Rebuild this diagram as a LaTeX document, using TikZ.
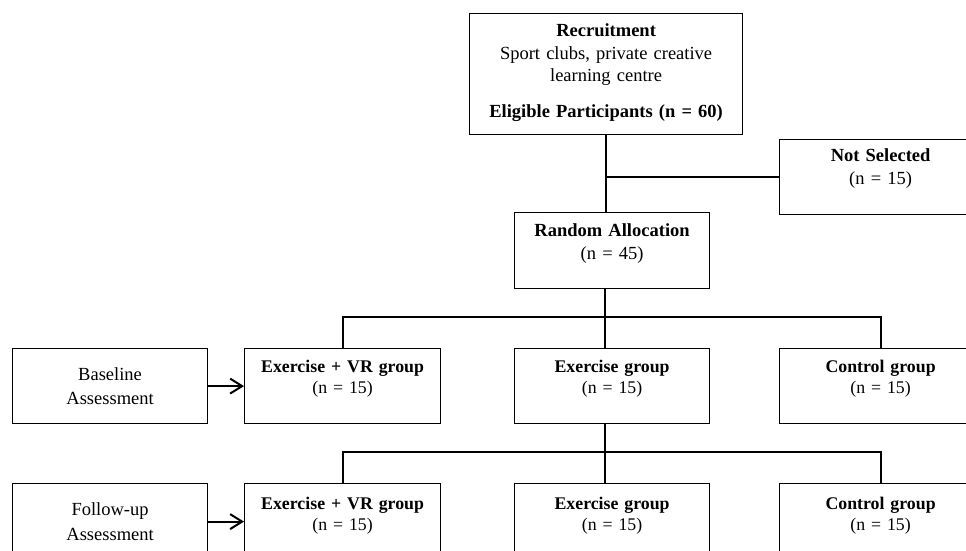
\documentclass[tikz,border=0pt]{standalone}
\usepackage{fontspec}
\setmainfont{Liberation Serif}
\usetikzlibrary{arrows.meta}
\begin{document}
\begin{tikzpicture}[x=0.5pt,y=-0.5pt,
  box/.style={draw, line width=0.6pt, inner xsep=0pt, inner ysep=0pt, align=center,
    anchor=north west, font=\fontsize{9.25}{11.35}\selectfont},
  grp/.style={box, text height=12pt, text depth=25.5pt, font=\fontsize{8.9}{10.6}\selectfont},
  grpb/.style={box, text height=13pt, text depth=25pt, font=\fontsize{8.9}{10.6}\selectfont},
  side/.style={box, text width=97.5pt, minimum height=38pt, font=\fontsize{9.25}{12.2}\selectfont},
  link/.style={line width=1pt},
  arr/.style={line width=1pt, -{Straight Barb[length=6pt,width=7.5pt,line width=1pt]}}]
\useasboundingbox (0,0) rectangle (966,551);
\clip (0,0) rectangle (966,551);
\fill[white] (0,0) rectangle (966,551);

\node[box, text width=136.5pt, text height=11.5pt, text depth=49pt] (rec) at (469,13)
  {\textbf{Recruitment}\\Sport clubs, private creative\\learning centre\\[6.65pt]\textbf{Eligible Participants (n = 60)}};
\node[box, text width=101pt, text height=11pt, text depth=26.5pt] (ns) at (779,139)
  {\textbf{Not Selected}\\(n = 15)};
\node[box, text width=97.5pt, text height=12pt, text depth=26pt] (ra) at (514,212)
  {\textbf{Random Allocation}\\(n = 45)};

\node[side, minimum height=37.5pt] (base) at (12,348) {Baseline\\Assessment};
\node[grp, text width=98pt] (vr) at (244,348) {\textbf{Exercise + VR group}\\(n = 15)};
\node[grp, text width=97.5pt] (ex) at (514,348) {\textbf{Exercise group}\\(n = 15)};
\node[grp, text width=101pt] (ctl) at (779,348) {\textbf{Control group}\\(n = 15)};

\node[side] (fu) at (12,483) {Follow-up\\Assessment};
\node[grpb, text width=98pt] (vr2) at (244,483) {\textbf{Exercise + VR group}\\(n = 15)};
\node[grpb, text width=97.5pt] (ex2) at (514,483) {\textbf{Exercise group}\\(n = 15)};
\node[grpb, text width=101pt] (ctl2) at (779,483) {\textbf{Control group}\\(n = 15)};

\coordinate (s1) at (605,317);
\coordinate (s2) at (605,452);

\draw[link] (rec.south) -- (rec.south |- ra.north);
\draw[link] (rec.south |- ns.west) -- (ns.west);
\draw[link] (ra.south -| s1) -- (s1);
\draw[link] (vr.north) |- (s1) -| (ctl.north);
\draw[link] (s1) -- (ex.north -| s1);
\draw[link] (ex.south -| s2) -- (s2);
\draw[link] (vr2.north) |- (s2) -| (ctl2.north);
\draw[link] (s2) -- (ex2.north -| s2);
\draw[arr] (base.east) -- (vr.west);
\draw[arr] (fu.east) -- (vr2.west);
\end{tikzpicture}
\end{document}
